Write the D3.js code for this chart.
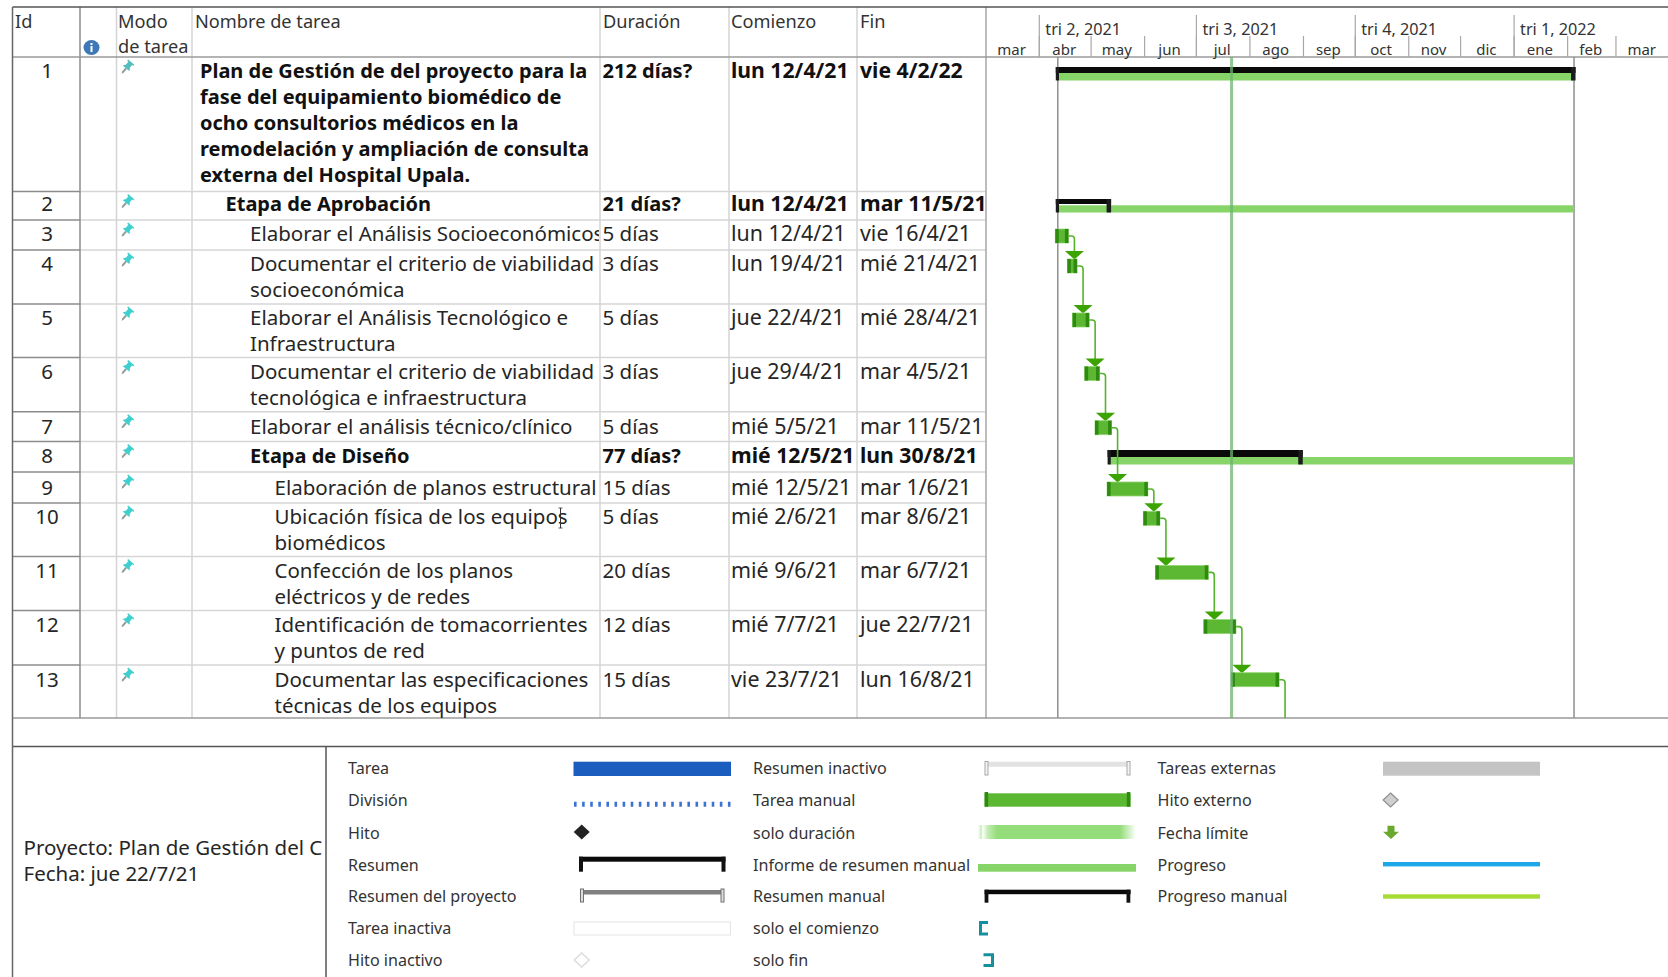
<!DOCTYPE html>
<html lang="es">
<head>
<meta charset="utf-8">
<title>Plan de Gestión — diagrama de Gantt</title>
<script src="https://cdn.jsdelivr.net/npm/d3@7"></script>
<style>
  html, body { margin: 0; padding: 0; background: #fff; }
  svg { display: block; }
  text { font-family: "Noto Sans", "Open Sans", sans-serif; fill: #262626; }
  .cell { font-size: 20.5px; }
  .date { font-size: 21.4px; }
  .head { font-size: 18.2px; fill: #333; }
  .bold { font-weight: 700; font-size: 20px; fill: #111; }
  .date.bold { font-size: 21.2px; }
  .legend { font-size: 16.1px; fill: #333; }
  .month { font-size: 15px; fill: #333; }
  .quarter { font-size: 16.2px; fill: #333; }
</style>
</head>
<body>
<svg id="gantt" width="1668" height="977"></svg>
<script>
// Task table
const ids = [1, 2, 3, 4, 5, 6, 7, 8, 9, 10, 11, 12, 13];
const levels = [0, 1, 2, 2, 2, 2, 2, 2, 3, 3, 3, 3, 3];
const kinds = ["summary", "summary", "task", "task", "task", "task", "task", "summary", "task", "task", "task", "task", "task"];
const names = [
  ["Plan de Gestión de del proyecto para la", "fase del equipamiento biomédico de", "ocho consultorios médicos en la", "remodelación y ampliación de consulta", "externa del Hospital Upala."],
  ["Etapa de Aprobación"],
  ["Elaborar el Análisis Socioeconómicos"],
  ["Documentar el criterio de viabilidad", "socioeconómica"],
  ["Elaborar el Análisis Tecnológico e", "Infraestructura"],
  ["Documentar el criterio de viabilidad", "tecnológica e infraestructura"],
  ["Elaborar el análisis técnico/clínico"],
  ["Etapa de Diseño"],
  ["Elaboración de planos estructural"],
  ["Ubicación física de los equipos", "biomédicos"],
  ["Confección de los planos", "eléctricos y de redes"],
  ["Identificación de tomacorrientes", "y puntos de red"],
  ["Documentar las especificaciones", "técnicas de los equipos"]
];
const durations = ["212 días?", "21 días?", "5 días", "3 días", "5 días", "3 días", "5 días", "77 días?", "15 días", "5 días", "20 días", "12 días", "15 días"];
const startLabels = ["lun 12/4/21", "lun 12/4/21", "lun 12/4/21", "lun 19/4/21", "jue 22/4/21", "jue 29/4/21", "mié 5/5/21", "mié 12/5/21", "mié 12/5/21", "mié 2/6/21", "mié 9/6/21", "mié 7/7/21", "vie 23/7/21"];
const finishLabels = ["vie 4/2/22", "mar 11/5/21", "vie 16/4/21", "mié 21/4/21", "mié 28/4/21", "mar 4/5/21", "mar 11/5/21", "lun 30/8/21", "mar 1/6/21", "mar 8/6/21", "mar 6/7/21", "jue 22/7/21", "lun 16/8/21"];
const startDates = ["2021-04-12", "2021-04-12", "2021-04-12", "2021-04-19", "2021-04-22", "2021-04-29", "2021-05-05", "2021-05-12", "2021-05-12", "2021-06-02", "2021-06-09", "2021-07-07", "2021-07-23"];
const finishDates = ["2022-02-04", "2021-05-11", "2021-04-16", "2021-04-21", "2021-04-28", "2021-05-04", "2021-05-11", "2021-08-30", "2021-06-01", "2021-06-08", "2021-07-06", "2021-07-22", "2021-08-16"];
const headers = ["Duración", "Comienzo", "Fin"];

// Timescale
const quarterLabels = ["tri 2, 2021", "tri 3, 2021", "tri 4, 2021", "tri 1, 2022"];
const monthLabels = ["mar", "abr", "may", "jun", "jul", "ago", "sep", "oct", "nov", "dic", "ene", "feb", "mar"];
const projectStart = "2021-04-12";
const projectEnd = "2022-02-04";
const statusDate = "2021-07-22";

// Legend
const legendCol1 = ["Tarea", "División", "Hito", "Resumen", "Resumen del proyecto", "Tarea inactiva", "Hito inactivo"];
const legendCol2 = ["Resumen inactivo", "Tarea manual", "solo duración", "Informe de resumen manual", "Resumen manual", "solo el comienzo", "solo fin"];
const legendCol3 = ["Tareas externas", "Hito externo", "Fecha límite", "Progreso", "Progreso manual"];
const projectNotes = ["Proyecto: Plan de Gestión del C", "Fecha: jue 22/7/21"];

// Layout
const W = 1668, H = 977;
const colX = { left: 12.5, id: 80, info: 116.5, mode: 192, name: 600, dur: 729, start: 857, finish: 986 };
const rowLines = [57, 191.5, 220, 250, 304, 357.5, 411.7, 441.5, 472, 503, 556.4, 610.6, 665, 718];
const lineStep = 26;
const indentX = [200, 225.5, 250, 274.5];
const legendY = [768, 800, 833, 865, 896, 928, 960];
const textNudge = { 1: -1.5, 5: 0.5, 6: 1, 7: 0.5, 8: 1.5, 10: 0.5, 11: 0.5, 12: 0.5 };
const barNudge = { 9: -0.7, 12: -1.3, 8: 1 };
const summaryDrop = { 0: 10, 1: 7.5, 7: 8.5 };
const summaryThick = { 0: 6, 1: 5, 7: 7 };
const summaryDepth = { 0: 23.5, 1: 21, 7: 23 };

const parse = d3.utcParse("%Y-%m-%d");
const x = d3.scaleUtc()
  .domain([parse("2021-04-01"), parse("2022-01-01")])
  .range([1038.8, 1513.6]);
const dayAfter = d => d3.utcDay.offset(parse(d), 1);

const svg = d3.select("#gantt");
const defs = svg.append("defs");
defs.append("clipPath").attr("id", "name-clip").append("rect")
  .attr("x", colX.mode).attr("y", 0).attr("width", colX.name - colX.mode - 1).attr("height", H);
const fade = defs.append("linearGradient").attr("id", "only-duration");
[[0, "#fff"], [0.02, "#c9efb9"], [0.03, "#fff"], [0.06, "#c5eeb5"], [0.12, "#95dd7a"], [0.9, "#95dd7a"], [1, "#fff"]]
  .forEach(([o, c]) => fade.append("stop").attr("offset", o).attr("stop-color", c));

const line = (g, x1, y1, x2, y2, color, w) => g.append("line")
  .attr("x1", x1).attr("y1", y1).attr("x2", x2).attr("y2", y2)
  .attr("stroke", color).attr("stroke-width", w);
const box = (g, bx, y, w, h, c) => g.append("rect")
  .attr("x", bx).attr("y", y).attr("width", w).attr("height", h).attr("fill", c);

// Table grid
const grid = svg.append("g");
rowLines.slice(1, -1).forEach(y => {
  line(grid, colX.id, y, colX.finish, y, "#d6d6d6", 1.5);
  line(grid, colX.left, y, colX.id, y, "#8c8c8c", 1.5);
});
[colX.info, colX.mode, colX.name, colX.dur, colX.start].forEach(cx => line(grid, cx, 7, cx, rowLines[13], "#d4d4d4", 1.5));
line(grid, colX.id, 7, colX.id, rowLines[13], "#8c8c8c", 1.5);
line(grid, colX.finish, 7, colX.finish, rowLines[13], "#a6a6a6", 1.5);
line(grid, colX.left, 57, W, 57, "#9a9a9a", 1.5);
line(grid, colX.left, 718, W, 718, "#9a9a9a", 1.5);
line(grid, colX.left, 7, W, 7, "#555", 1.5);
line(grid, colX.left, 746.5, W, 746.5, "#555", 1.5);
line(grid, colX.left, 7, colX.left, H, "#666", 1.5);
line(grid, 326, 746.5, 326, H, "#555", 1.5);

// Column headers
const head = svg.append("g");
const headText = (t, hx, hy) => head.append("text").attr("class", "head").attr("x", hx).attr("y", hy).text(t);
headText("Id", 15, 28);
headText("Modo", 118, 28);
headText("de tarea", 118, 53);
headText("Nombre de tarea", 195, 28);
headers.forEach((t, i) => headText(t, [603, 731, 860][i], 28));
head.append("ellipse").attr("cx", 91.5).attr("cy", 47.5).attr("rx", 8).attr("ry", 7.5).attr("fill", "#3f78b6");
box(head, 90.5, 46, 2, 6, "#fff");
box(head, 90.5, 43, 2, 2, "#fff");

// Timescale header
const months = d3.utcMonths(parse("2021-03-01"), parse("2022-04-01"));
const quarters = d3.utcMonths(parse("2021-04-01"), parse("2022-04-01"), 3);
const axisMonth = d3.axisBottom(x).tickValues(months.slice(1)).tickSize(-21).tickFormat("");
const axisQuarter = d3.axisBottom(x).tickValues(quarters).tickSize(-42).tickFormat("");
[axisMonth, axisQuarter].forEach(a => {
  const g = svg.append("g").attr("transform", "translate(0,57)").call(a);
  g.select(".domain").remove();
  g.selectAll("line").attr("stroke", "#a8a8a8").attr("stroke-width", 1.2);
});
months.forEach((m, i) => {
  const next = d3.utcMonth.offset(m, 1);
  svg.append("text").attr("class", "month").attr("text-anchor", "middle")
    .attr("x", (x(m) + x(next)) / 2 - 0.5).attr("y", 55).text(monthLabels[i]);
});
quarters.forEach((q, i) => {
  svg.append("text").attr("class", "quarter").attr("x", x(q) + 6.5).attr("y", 35).text(quarterLabels[i]);
});

// Table rows
const rows = svg.append("g").selectAll("g").data(ids).join("g")
  .attr("transform", (d, i) => `translate(0,${rowLines[i]})`);
rows.each(function (id, i) {
  const g = d3.select(this);
  const bold = kinds[i] === "summary" ? " bold" : "";
  const y0 = 21 + (textNudge[i] || 0);
  g.append("text").attr("class", "cell").attr("x", 47).attr("y", y0).attr("text-anchor", "middle").text(id);
  g.append("g").attr("clip-path", "url(#name-clip)")
    .selectAll("text").data(names[i]).join("text")
    .attr("class", "cell" + bold).attr("x", indentX[levels[i]])
    .attr("y", (d, k) => y0 + k * lineStep).text(d => d);
  g.append("text").attr("class", "cell" + bold).attr("x", 602.5).attr("y", y0).text(durations[i]);
  g.append("text").attr("class", "cell date" + bold).attr("x", 731).attr("y", y0).text(startLabels[i]);
  g.append("text").attr("class", "cell date" + bold).attr("x", 860).attr("y", y0).text(finishLabels[i]);
  // Task mode pin
  const pin = g.append("g").attr("transform", "translate(128,9) rotate(40)");
  pin.append("path").attr("d", "M-1,3 L-1,8 L0,10 L1,8 L1,3Z").attr("fill", "#8f9c9c");
  pin.append("path").attr("d", "M-4,-5 H4 V-3.5 H2.5 V0 L4.5,3 H-4.5 L-2.5,0 V-3.5 H-4Z")
    .attr("fill", i === 0 ? "#55bdbd" : "#3fcfcf");
});

// Caret left in the name cell of row 10
line(svg, 560.5, 508, 560.5, 528, "#333", 1);
line(svg, 558.5, 508, 562.5, 508, "#333", 0.8);
line(svg, 558.5, 528, 562.5, 528, "#333", 0.8);

// Project start and end rules
const rules = svg.append("g");
line(rules, x(parse(projectStart)), 57, x(parse(projectStart)), 718, "#8e8e8e", 1.5);
line(rules, x(dayAfter(projectEnd)), 57, x(dayAfter(projectEnd)), 718, "#8e8e8e", 1.5);

// Summary bars with their roll-up band
const taskTop = i => rowLines[i] + 9 + (barNudge[i] || 0);
const bars = svg.append("g");
ids.forEach((id, i) => {
  if (kinds[i] !== "summary") return;
  const a = x(parse(startDates[i])), b = x(dayAfter(finishDates[i]));
  const top = rowLines[i] + summaryDrop[i], t = summaryThick[i];
  const bottom = rowLines[i] + summaryDepth[i];
  const bandTop = i === 1 ? bottom - 7.2 : top + t;
  box(bars, a, bandTop, x(dayAfter(projectEnd)) - a, bottom - bandTop, "#87d568");
  box(bars, a - 2, top, b - a + 3.5, t, "#0a0a0a");
  box(bars, a - 2, top, 3.2, bottom - top, "#1c1c1c");
  box(bars, b - 3, top, 4.5, bottom - top, "#1c1c1c");
});

// Dependency links run under the task bars
const links = svg.append("g");
ids.forEach((id, i) => {
  if (kinds[i] !== "task") return;
  const end = x(dayAfter(finishDates[i]));
  const lineX = end + 8, y1 = taskTop(i) + 7;
  let next = i + 1;
  if (next < ids.length && kinds[next] !== "task") next++;
  const yEnd = next < ids.length ? taskTop(next) - 7 : rowLines[13];
  links.append("path")
    .attr("d", `M${end},${y1} H${lineX - 3} Q${lineX},${y1} ${lineX},${y1 + 3} V${yEnd}`)
    .attr("fill", "none").attr("stroke", "#55b32c").attr("stroke-width", 1.6);
  if (next < ids.length) {
    const ty = taskTop(next);
    links.append("path").attr("d", `M${lineX - 9.5},${ty - 8} H${lineX + 9.5} L${lineX},${ty + 0.5}Z`).attr("fill", "#3ba402");
  }
});

// Task bars
const taskBars = svg.append("g");
ids.forEach((id, i) => {
  if (kinds[i] !== "task") return;
  const a = x(parse(startDates[i])) - 2.5, b = x(dayAfter(finishDates[i])) + 2, y = taskTop(i);
  box(taskBars, a, y, b - a, 14, "#5cb833").attr("stroke", "#93d676").attr("stroke-width", 0.8);
  box(taskBars, a, y, 3.5, 14, "#2f8a10");
  box(taskBars, b - 3.5, y, 3.5, 14, "#2f8a10");
});

// Status date line
const statusX = x(parse(statusDate)) - 0.6;
line(svg, statusX, 57, statusX, 718, "#6db56d", 3).attr("opacity", 0.75);

// Project notes
projectNotes.forEach((t, i) => {
  svg.append("text").attr("class", "cell").attr("x", 23.5).attr("y", [854.5, 880.5][i]).text(t);
});

// Legend labels
const legendText = (list, lx) => list.forEach((t, i) =>
  svg.append("text").attr("class", "legend").attr("x", lx).attr("y", legendY[i] + 6).text(t));
legendText(legendCol1, 348);
legendText(legendCol2, 753);
legendText(legendCol3, 1157.5);

// Legend symbols
const sym = svg.append("g");
box(sym, 573.5, 761.7, 157.5, 14.3, "#1a5dbf");
line(sym, 574, 804.3, 731, 804.3, "#3a74d0", 5).attr("stroke-dasharray", "2.6 5.5");
sym.append("path").attr("d", "M581.7,824.5 l8,7.5 l-8,7.5 l-8,-7.5Z").attr("fill", "#222");
box(sym, 579, 856.7, 146.5, 5, "#0a0a0a");
box(sym, 579, 856.7, 4, 15, "#111");
box(sym, 721.5, 856.7, 4, 15, "#111");
box(sym, 581, 890, 142, 4.5, "#808080");
box(sym, 580.5, 889, 3, 13, "#ddd").attr("stroke", "#707070");
box(sym, 721, 889, 3, 13, "#ddd").attr("stroke", "#707070");
box(sym, 574, 922, 156.5, 13, "#fff").attr("stroke", "#e4e4e4");
sym.append("path").attr("d", "M581.7,953 l7.5,7 l-7.5,7 l-7.5,-7Z").attr("fill", "#fff").attr("stroke", "#dcdcdc").attr("stroke-width", 1.5);

box(sym, 986, 761.7, 143, 5, "#e2e2e2");
box(sym, 985, 761.5, 3, 13.5, "#f4f4f4").attr("stroke", "#a8a8a8");
box(sym, 1127, 761.5, 3, 13.5, "#f4f4f4").attr("stroke", "#a8a8a8");
box(sym, 984.6, 793.3, 146, 13.4, "#5cb833");
box(sym, 984.6, 792, 3.5, 14.7, "#2f8a10");
box(sym, 1126.8, 792, 3.5, 14.7, "#2f8a10");
box(sym, 978, 825, 158, 14, "url(#only-duration)");
box(sym, 978, 864, 158, 7.7, "#87d568");
box(sym, 984.6, 889.7, 146, 4.5, "#0a0a0a");
box(sym, 984.6, 889.7, 3.8, 13, "#111");
box(sym, 1126.5, 889.7, 3.8, 13, "#111");
sym.append("path").attr("d", "M988,922.5 H980.5 V934 H988").attr("fill", "none").attr("stroke", "#16909c").attr("stroke-width", 3);
sym.append("path").attr("d", "M983.5,954.8 H992.5 V965.5 H983.5").attr("fill", "none").attr("stroke", "#16909c").attr("stroke-width", 3);

box(sym, 1383, 761.7, 157, 14, "#c4c4c4");
sym.append("path").attr("d", "M1390.6,793 l7.5,7 l-7.5,7 l-7.5,-7Z").attr("fill", "#cfcfcf").attr("stroke", "#8f8f8f").attr("stroke-width", 1.2);
sym.append("path").attr("d", "M1387.5,825.7 h7 v6 h4.5 l-8,7.3 l-8,-7.3 h4.5Z").attr("fill", "#6aa92e");
box(sym, 1383, 862, 157, 4.4, "#1ca7e8");
box(sym, 1383, 894.3, 157, 4.4, "#a6dc34");
</script>
</body>
</html>
